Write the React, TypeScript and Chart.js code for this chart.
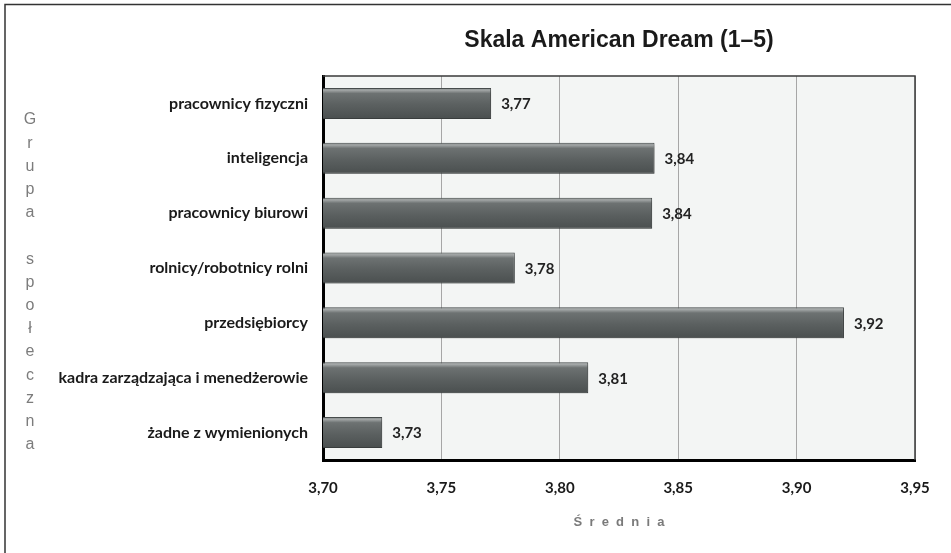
import React, { useEffect, useRef } from "react";
import { Chart, registerables } from "chart.js";

Chart.register(...registerables);

const categories = [
  "pracownicy fizyczni",
  "inteligencja",
  "pracownicy biurowi",
  "rolnicy/robotnicy rolni",
  "przedsiębiorcy",
  "kadra zarządzająca i menedżerowie",
  "żadne z wymienionych",
];
const means = [3.771, 3.84, 3.839, 3.781, 3.92, 3.812, 3.725];
const meanLabels = ["3,77", "3,84", "3,84", "3,78", "3,92", "3,81", "3,73"];
const xMin = 3.7;
const xMax = 3.95;
const xStep = 0.05;
const chartTitle = "Skala American Dream (1–5)";
const xTitle = "Ś  r  e  d  n  i  a";
const yTitleLetters = ["G", "r", "u", "p", "a", "", "s", "p", "o", "ł", "e", "c", "z", "n", "a"];

const BAR_PCT = 0.565;
const LABEL_FONT = "Lato, 'Open Sans', sans-serif";

export default function App() {
  const ref = useRef<HTMLCanvasElement | null>(null);

  useEffect(() => {
    if (!ref.current) return;

    const barFill = (c: any) => {
      const chart = c.chart;
      const ys = chart.scales && chart.scales.y;
      if (!ys || c.dataIndex === undefined || !ys.height) return "#5b6060";
      const center = ys.getPixelForValue(c.dataIndex);
      const h = (ys.height / categories.length) * BAR_PCT;
      const top = center - h / 2;
      const g = chart.ctx.createLinearGradient(0, top, 0, top + h);
      g.addColorStop(0, "#7a7f7f");
      g.addColorStop(0.07, "#a3a7a7");
      g.addColorStop(0.18, "#6d7272");
      g.addColorStop(0.55, "#5b6060");
      g.addColorStop(1, "#4a4f4f");
      return g;
    };

    const decor = {
      id: "decor",
      beforeDraw(chart: any) {
        const { ctx, chartArea: a } = chart;
        ctx.save();
        ctx.fillStyle = "#ffffff";
        ctx.fillRect(0, 0, chart.width, chart.height);
        ctx.fillStyle = "#f3f5f4";
        ctx.fillRect(a.left, a.top, a.right - a.left, a.bottom - a.top);
        ctx.restore();
      },
      beforeDatasetsDraw(chart: any) {
        const { ctx, chartArea: a } = chart;
        ctx.save();
        ctx.strokeStyle = "#3a3a3a";
        ctx.lineWidth = 1.5;
        ctx.beginPath();
        ctx.moveTo(a.left, a.top);
        ctx.lineTo(a.right, a.top);
        ctx.lineTo(a.right, a.bottom);
        ctx.stroke();
        ctx.restore();
        ctx.save();
        ctx.shadowColor = "rgba(0,0,0,0.28)";
        ctx.shadowBlur = 3;
        ctx.shadowOffsetX = 2;
        ctx.shadowOffsetY = 2;
      },
      afterDatasetsDraw(chart: any) {
        const { ctx } = chart;
        ctx.restore();
        const meta = chart.getDatasetMeta(0);
        ctx.save();
        ctx.font = `bold 15px ${LABEL_FONT}`;
        ctx.fillStyle = "#222222";
        ctx.textAlign = "left";
        ctx.textBaseline = "middle";
        meta.data.forEach((el: any, i: number) => {
          const p = el.getProps(["x", "y"], true);
          ctx.fillText(meanLabels[i], p.x + 10, p.y + 1);
        });
        ctx.restore();
      },
      afterDraw(chart: any) {
        const { ctx, chartArea: a } = chart;
        ctx.save();
        // vertical y-axis title, one letter per line
        ctx.font = "16px 'Liberation Sans', Arial, sans-serif";
        ctx.fillStyle = "#7c7c7c";
        ctx.textAlign = "center";
        ctx.textBaseline = "middle";
        yTitleLetters.forEach((ch, i) => {
          ctx.fillText(ch, 30, a.top + 44 + i * 23.2);
        });
        // outer frame (left and top edges visible)
        ctx.strokeStyle = "#333333";
        ctx.lineWidth = 1.5;
        ctx.beginPath();
        ctx.moveTo(5, chart.height);
        ctx.lineTo(5, 4.5);
        ctx.lineTo(chart.width, 4.5);
        ctx.stroke();
        ctx.restore();
      },
    };

    const chart = new Chart(ref.current, {
      type: "bar",
      data: {
        labels: categories,
        datasets: [
          {
            data: means,
            backgroundColor: barFill,
            borderColor: "#474c4c",
            borderWidth: 1,
            borderSkipped: false,
            categoryPercentage: 1,
            barPercentage: BAR_PCT,
          },
        ],
      },
      options: {
        indexAxis: "y",
        responsive: false,
        animation: false,
        devicePixelRatio: 1,
        layout: { padding: { left: 0, right: 36, top: 0, bottom: 18 } },
        plugins: {
          legend: { display: false },
          tooltip: { enabled: false },
          title: {
            display: true,
            text: chartTitle,
            fullSize: false,
            color: "#1a1a1a",
            font: { family: "'Liberation Sans', Arial, sans-serif", size: 23, weight: "bold", lineHeight: 1.2 },
            padding: { top: 27, bottom: 21.4 },
          },
        },
        scales: {
          x: {
            type: "linear",
            min: xMin,
            max: xMax,
            ticks: {
              stepSize: xStep,
              padding: 19,
              color: "#1a1a1a",
              font: { family: LABEL_FONT, size: 15, weight: "bold" },
              callback: (v: any) => Number(v).toFixed(2).replace(".", ","),
            },
            grid: { color: "#a6a6a6", lineWidth: 1, drawTicks: false },
            border: { color: "#000000", width: 3 },
            title: {
              display: true,
              text: xTitle,
              color: "#7a7a7a",
              font: { family: "'Liberation Sans', Arial, sans-serif", size: 13, weight: "bold", lineHeight: 1.2 },
              padding: { top: 4, bottom: 5 },
            },
            afterFit: (s: any) => {
              s.height = 75;
            },
          },
          y: {
            type: "category",
            ticks: {
              padding: 15,
              color: "#1a1a1a",
              font: { family: LABEL_FONT, size: 16, weight: "bold" },
            },
            grid: { display: false, drawTicks: false },
            border: { color: "#000000", width: 3 },
            afterFit: (s: any) => {
              s.width = 323;
            },
          },
        },
      },
      plugins: [decor],
    });

    return () => chart.destroy();
  }, []);

  return (
    <div style={{ position: "fixed", left: 0, top: 0, width: 951, height: 553, background: "#fff" }}>
      <canvas ref={ref} width={951} height={553} style={{ display: "block", width: 951, height: 553 }} />
    </div>
  );
}
